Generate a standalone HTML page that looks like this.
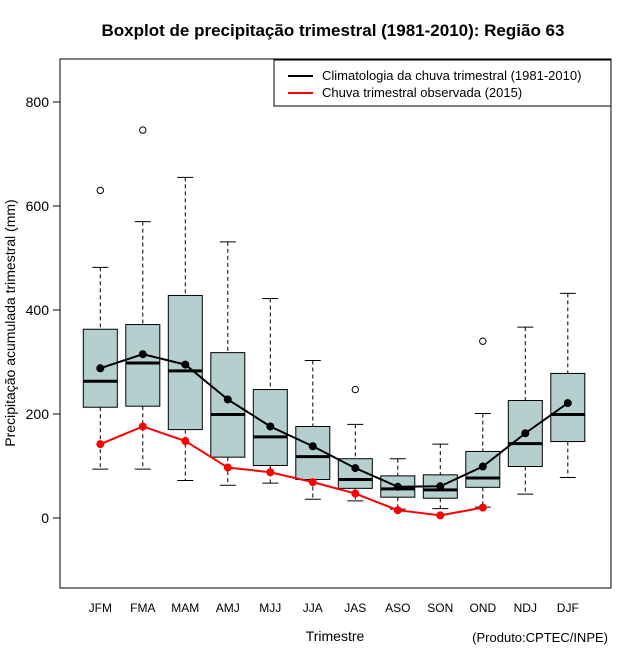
<!DOCTYPE html>
<html><head><meta charset="utf-8"><style>
body{margin:0;background:#fff}
svg text{font-family:"Liberation Sans",Arial,sans-serif}
</style></head><body>
<svg id="chart" width="640" height="660" xmlns="http://www.w3.org/2000/svg">
<rect width="640" height="660" fill="#fff"/>
<text x="333" y="36" text-anchor="middle" font-size="17" font-weight="bold">Boxplot de precipitação trimestral (1981-2010): Região 63</text>
<rect x="60" y="59" width="551" height="529" fill="none" stroke="#000"/>
<g id="yaxis"></g>
<g id="xaxis"></g>
<g id="marks"></g>
<text transform="translate(15,323) rotate(-90)" text-anchor="middle" font-size="14">Precipitação acumulada trimestral (mm)</text>
<text x="335" y="641" text-anchor="middle" font-size="14">Trimestre</text>
<text x="608" y="642" text-anchor="end" font-size="13">(Produto:CPTEC/INPE)</text>
<g>
<rect x="274" y="60" width="337" height="46" fill="#fff" stroke="#000"/>
<line x1="288" y1="76" x2="313" y2="76" stroke="#000" stroke-width="2"/>
<text x="322" y="80" font-size="13">Climatologia da chuva trimestral (1981-2010)</text>
<line x1="288" y1="93" x2="313" y2="93" stroke="#f00" stroke-width="2"/>
<text x="322" y="97" font-size="13">Chuva trimestral observada (2015)</text>
</g>
</svg>
<script>
const categories=["JFM","FMA","MAM","AMJ","MJJ","JJA","JAS","ASO","SON","OND","NDJ","DJF"];
const whiskerLow=[94,94,72,63,67,36,33,17,18,21,46,78];
const q1=[213,215,170,117,101,74,57,40,38,59,99,147];
const median=[263,298,283,199,156,118,74,56,54,77,143,199];
const q3=[363,372,428,318,247,176,114,81,83,128,226,278];
const whiskerHigh=[482,570,655,531,422,303,180,114,142,201,367,432];
const outlierCat=[0,1,6,9];
const outlierVal=[630,746,247,340];
const climatology=[288,315,295,228,176,138,96,60,61,99,163,221];
const observed=[142,176,148,97,88,69,47,15,5,20];
const yTicks=[0,200,400,600,800];

const NS="http://www.w3.org/2000/svg";
const y=v=>518-v*0.52;
const x=i=>100.3+i*42.5;
function mk(tag,attrs,parent,text){const e=document.createElementNS(NS,tag);for(const k in attrs)e.setAttribute(k,attrs[k]);if(text!=null)e.textContent=text;parent.appendChild(e);return e;}
const ya=document.getElementById('yaxis'),xa=document.getElementById('xaxis'),g=document.getElementById('marks');
yTicks.forEach(t=>{
  let l=mk('line',{x1:53,x2:60,y1:y(t),y2:y(t),stroke:'#000'},ya);
  
  
  let tx=mk('text',{x:49,y:y(t)+5,'text-anchor':'end','font-size':14},ya,String(t));
  
  
});
categories.forEach((c,i)=>{
  let tx=mk('text',{x:x(i),y:612,'text-anchor':'middle','font-size':12},xa,c);
  
  
  const cx=x(i),hw=17;
  let w1=mk('line',{x1:cx,x2:cx,y1:y(whiskerHigh[i]),y2:y(q3[i]),stroke:'#000','stroke-dasharray':'4,3'},g);
  
  
  let w2=mk('line',{x1:cx,x2:cx,y1:y(q1[i]),y2:y(whiskerLow[i]),stroke:'#000','stroke-dasharray':'4,3'},g);
  
  
  let c1=mk('line',{x1:cx-8,x2:cx+8,y1:y(whiskerHigh[i]),y2:y(whiskerHigh[i]),stroke:'#000'},g);
  
  
  let c2=mk('line',{x1:cx-8,x2:cx+8,y1:y(whiskerLow[i]),y2:y(whiskerLow[i]),stroke:'#000'},g);
  
  
  let b=mk('rect',{x:cx-hw,y:y(q3[i]),width:hw*2,height:y(q1[i])-y(q3[i]),fill:'#b5cfcf',stroke:'#000'},g);
  
  
  let m=mk('line',{x1:cx-hw,x2:cx+hw,y1:y(median[i]),y2:y(median[i]),stroke:'#000','stroke-width':3},g);
  
  
});
outlierCat.forEach((ci,k)=>{
  let o=mk('circle',{cx:x(ci),cy:y(outlierVal[k]),r:3.2,fill:'none',stroke:'#000'},g);
  
  
});
function series(vals,color,name){
  let p=mk('polyline',{points:vals.map((v,i)=>x(i)+','+y(v)).join(' '),fill:'none',stroke:color,'stroke-width':2},g);
  
  
  vals.forEach((v,i)=>{
    let d=mk('circle',{cx:x(i),cy:y(v),r:4,fill:color},g);
    
    
  });
}
series(climatology,'#000','climatology');
series(observed,'#f00','observed');
</script>
</body></html>
